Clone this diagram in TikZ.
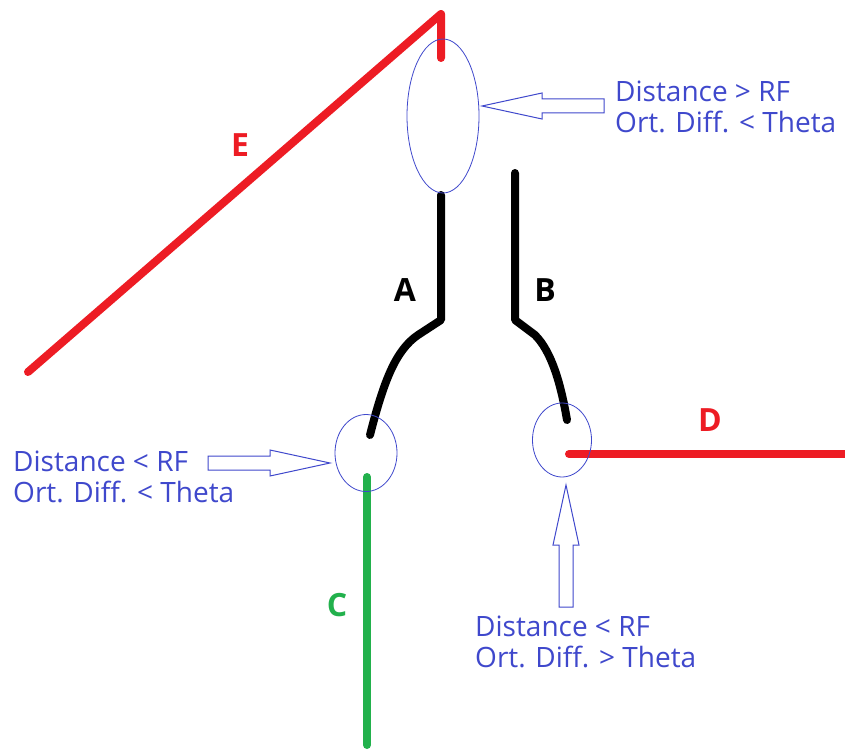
\documentclass[tikz,border=0pt]{standalone}
\usepackage{fontspec}
\setmainfont{Open Sans}
\usetikzlibrary{shapes.geometric, positioning}
\definecolor{paintred}{RGB}{237,28,36}
\definecolor{paintgreen}{RGB}{34,177,76}
\definecolor{paintblue}{RGB}{63,72,204}
\tikzstyle{seg} = [
    line width=8pt,
    line cap=round,
    line join=round
]
\tikzstyle{zone} = [
    ellipse,
    draw=paintblue,
    line width=0.8pt,
    inner sep=0pt
]
\tikzstyle{note} = [
    text=paintblue,
    font=\fontsize{28}{31}\selectfont,
    align=left,
    anchor=north west,
    inner sep=0pt
]
\tikzstyle{tag} = [
    font=\fontsize{32}{36}\selectfont\bfseries
]
\tikzset{
    hollow arrow/.pic={
        \draw[paintblue, line width=1pt, line join=miter]
            (0,0) -- (60,-13) -- (60,-7) -- (122,-7) -- (122,7) -- (60,7) -- (60,13) -- cycle;
    }
}

\begin{document}
\begin{tikzpicture}[x=1pt, y=-1pt]
    \fill[white] (0,0) rectangle (845,749);
    \useasboundingbox (0,0) rectangle (845,749);

    % Segments
    \draw[seg, paintred] (28,372) -- (441,14) -- (441,58);
    \draw[seg, black] (441,195) -- (441,320) -- (418,335)
        .. controls (396,350) and (384,380) .. (370,435);
    \draw[seg, black] (515,173) -- (515,320) -- (535,335)
        .. controls (552,352) and (561,385) .. (567,420);
    \draw[seg, paintgreen] (367,477) -- (367,745);
    \draw[seg, paintred] (569,454) -- (845,454);

    % Segment labels
    \node[tag, text=paintred] (lblE) at (240,145) {E};
    \node[tag] (lblA) at (405,290) {A};
    \node[tag] (lblB) at (545,290) {B};
    \node[tag, text=paintgreen] (lblC) at (337,605) {C};
    \node[tag, text=paintred] (lblD) at (710,420) {D};

    % Search zones
    \node[zone, minimum width=72pt, minimum height=154pt] (top) at (443,116) {};
    \node[zone, minimum width=62pt, minimum height=77pt] (left) at (366,453) {};
    \node[zone, minimum width=59pt, minimum height=74pt] (right) at (562,440) {};

    % Notes
    \node[note] (ntop) at (615,81) {Distance > RF\\Ort. Diff. < Theta};
    \node[note] (nleft) at (13,451) {Distance < RF\\Ort. Diff. < Theta};
    \node[note] (nright) at (475,616) {Distance < RF\\Ort. Diff. > Theta};

    % Arrows
    \coordinate (ttop) at (482,106);
    \coordinate (tleft) at (330,463);
    \coordinate (tright) at (566,485);
    \pic at (ttop) {hollow arrow};
    \pic[rotate=180] at (tleft) {hollow arrow};
    \pic[rotate=-90] at (tright) {hollow arrow};
\end{tikzpicture}
\end{document}
